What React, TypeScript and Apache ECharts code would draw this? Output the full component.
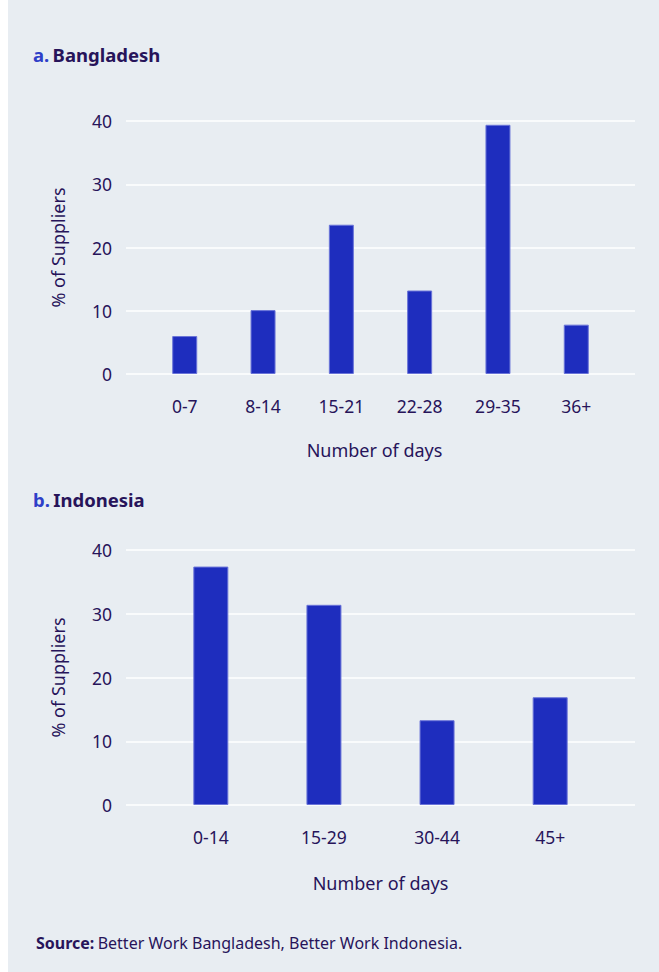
import React, { useEffect, useRef } from "react";
import * as echarts from "echarts";

const catsA = ["0-7", "8-14", "15-21", "22-28", "29-35", "36+"];
const valsA = [6.0, 10.1, 23.6, 13.2, 39.4, 7.8];
const catsB = ["0-14", "15-29", "30-44", "45+"];
const valsB = [37.4, 31.4, 13.3, 16.9];
const yTicks = [0, 10, 20, 30, 40];

const TEXT = "#27145a";
const BLUE = "#1e2dbe";
const ACCENT = "#2f3fc8";
const BG = "#e8edf2";
const FONT = "'Noto Sans', 'Open Sans', sans-serif";

export default function App() {
  const ref = useRef<HTMLDivElement>(null);
  useEffect(() => {
    if (!ref.current) return;
    const chart = echarts.init(ref.current, null, { renderer: "svg" });
    const idxA = catsA.map((_, i) => i);
    const idxB = catsB.map((_, i) => i);
    const yAxisCommon = (gridIndex: number) => ({
      type: "value",
      gridIndex,
      min: 0,
      max: 40,
      interval: 10,
      name: "% of Suppliers",
      nameLocation: "middle",
      nameGap: 59,
      nameTextStyle: { color: TEXT, fontSize: 18, fontFamily: FONT },
      axisLine: { show: false },
      axisTick: { show: false },
      axisLabel: {
        color: TEXT,
        fontSize: 17.5,
        fontFamily: FONT,
        margin: 14,
        customValues: yTicks,
      },
      splitLine: { show: true, lineStyle: { color: "#ffffff", width: 1.5 } },
    });
    const xAxisCommon = (
      gridIndex: number,
      cats: string[],
      idx: number[],
      gap: number,
      margin: number,
      namePad: number[]
    ) => ({
      type: "value",
      gridIndex,
      min: -0.75,
      max: cats.length - 0.25,
      name: "Number of days",
      nameLocation: "middle",
      nameGap: gap,
      nameTextStyle: { color: TEXT, fontSize: 18, fontFamily: FONT, padding: namePad },
      axisLine: { show: false },
      axisTick: { show: false },
      splitLine: { show: false },
      axisLabel: {
        color: TEXT,
        fontSize: 17.5,
        fontFamily: FONT,
        margin,
        customValues: idx,
        formatter: (v: number) => cats[Math.round(v)] ?? "",
      },
    });
    const heading = (label: string, title: string, top: number) => ({
      type: "text",
      left: 33,
      top,
      style: {
        text: `{a|${label}} {t|${title}}`,
        rich: {
          a: { fill: ACCENT, fontSize: 18.5, fontWeight: "bold", fontFamily: FONT },
          t: { fill: TEXT, fontSize: 18.5, fontWeight: "bold", fontFamily: FONT },
        },
      },
    });
    chart.setOption({
      animation: false,
      backgroundColor: "#ffffff",
      textStyle: { fontFamily: FONT },
      graphic: [
        {
          type: "rect",
          shape: { x: 8, y: 0, width: 651, height: 972 },
          style: { fill: BG },
          z: -10,
          silent: true,
        },
        heading("a.", "Bangladesh", 45),
        heading("b.", "Indonesia", 490),
        {
          type: "text",
          left: 36,
          top: 935,
          style: {
            text: "{b|Source:} {t|Better Work Bangladesh, Better Work Indonesia.}",
            rich: {
              b: { fill: TEXT, fontSize: 16, fontWeight: "bold", fontFamily: FONT },
              t: { fill: TEXT, fontSize: 16, fontFamily: FONT },
            },
          },
        },
      ],
      grid: [
        { left: 126, right: 24, top: 121, height: 253 },
        { left: 126, right: 24, top: 550, height: 255 },
      ],
      xAxis: [
        xAxisCommon(0, catsA, idxA, 67, 23, [0, 12, 0, 0]),
        xAxisCommon(1, catsB, idxB, 69, 23, [0, 0, 0, 0]),
      ],
      yAxis: [yAxisCommon(0), yAxisCommon(1)],
      series: [
        {
          type: "bar",
          xAxisIndex: 0,
          yAxisIndex: 0,
          barWidth: 25,
          data: valsA.map((v, i) => [i, v]),
          itemStyle: { color: BLUE, borderColor: "#6a74d8", borderWidth: 1 },
        },
        {
          type: "bar",
          xAxisIndex: 1,
          yAxisIndex: 1,
          barWidth: 35,
          data: valsB.map((v, i) => [i, v]),
          itemStyle: { color: BLUE, borderColor: "#6a74d8", borderWidth: 1 },
        },
      ],
    });
    return () => chart.dispose();
  }, []);
  return (
    <div
      ref={ref}
      style={{ position: "absolute", left: 0, top: 0, width: 659, height: 972 }}
    />
  );
}
